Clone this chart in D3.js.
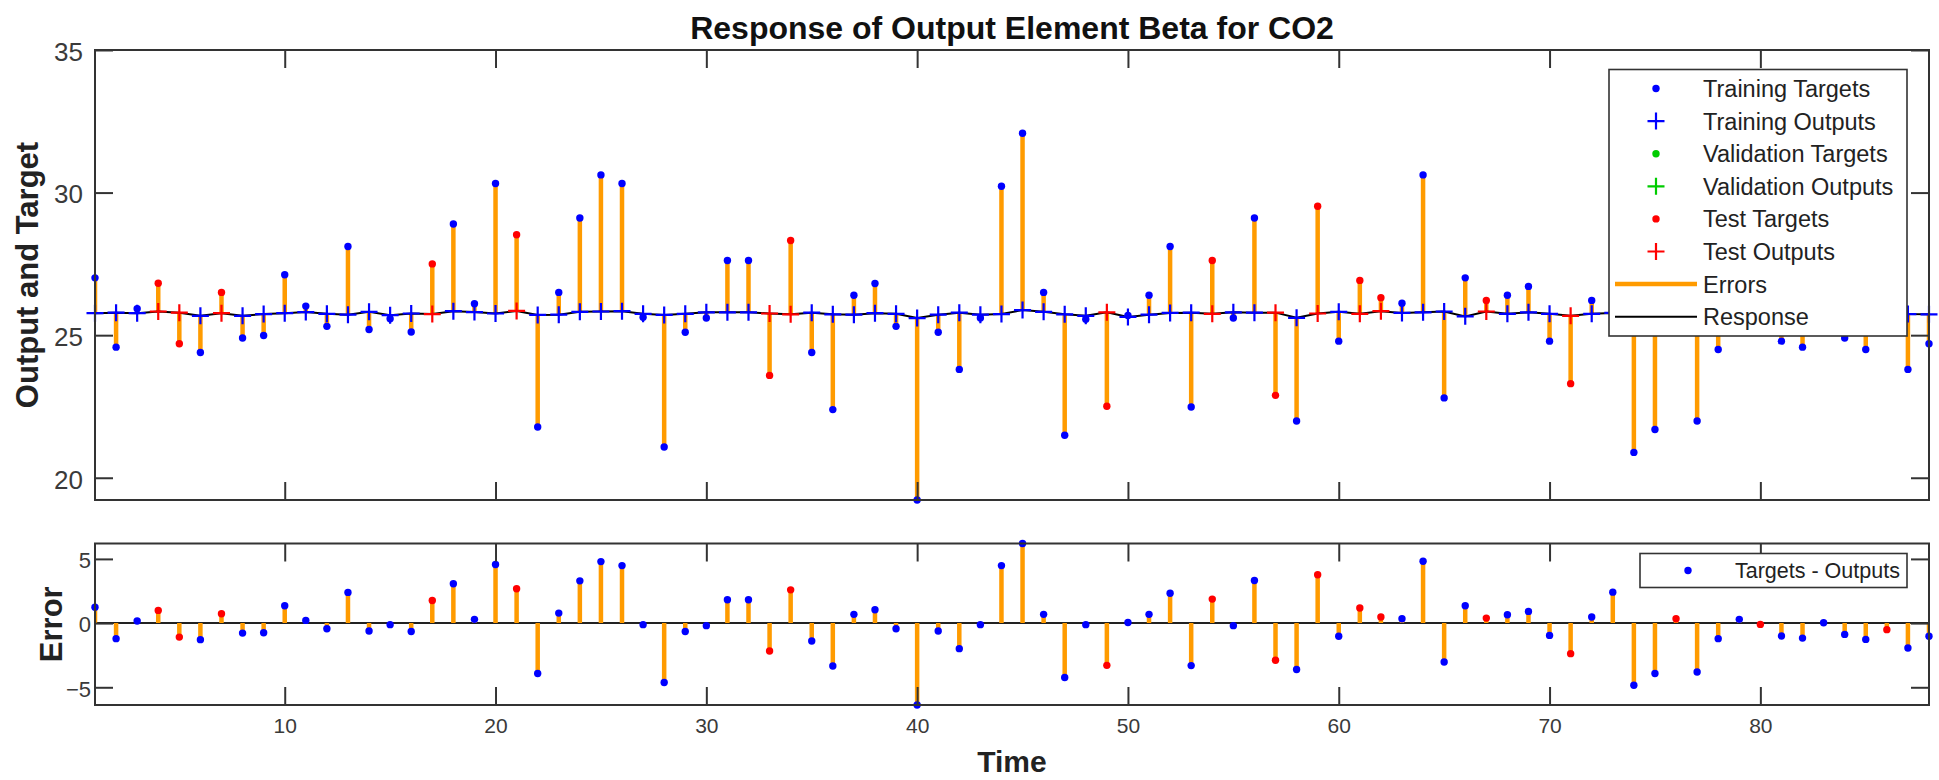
<!DOCTYPE html>
<html>
<head>
<meta charset="utf-8">
<script src="https://cdn.jsdelivr.net/npm/d3@7"></script>
<style>
  html, body { margin: 0; padding: 0; background: #fff; }
  svg { display: block; font-family: "Liberation Sans", Arial, Helvetica, sans-serif; }
</style>
</head>
<body>
<svg id="chart" width="1939" height="780"></svg>
<script>
// ---------------- DATA ----------------
const times = d3.range(1, 89);
const targets = [
  27.01, 24.58, 25.93, 26.82, 24.70, 24.39, 26.50, 24.90, 24.99, 27.12,
  26.02, 25.31, 28.11, 25.20, 25.58, 25.11, 27.50, 28.90, 26.10, 30.32,
  28.52, 21.78, 26.50, 29.11, 30.62, 30.32, 25.63, 21.08, 25.10, 25.60,
  27.62, 27.62, 23.59, 28.32, 24.39, 22.39, 26.40, 26.81, 25.31, 19.22,
  25.10, 23.80, 25.60, 30.22, 32.08, 26.50, 21.49, 25.56, 22.51, 25.69,
  26.40, 28.11, 22.48, 27.62, 25.60, 29.11, 22.89, 21.99, 29.52, 24.79,
  26.92, 26.31, 26.12, 30.62, 22.80, 27.01, 26.22, 26.40, 26.71, 24.79,
  23.30, 26.22, 28.19, 20.89, 21.69, 26.12, 21.99, 24.50, 26.08, 25.68,
  24.79, 24.58, 25.81, 24.90, 24.50, 25.27, 23.80, 24.70
];
const outputs = [
  25.77, 25.79, 25.77, 25.83, 25.79, 25.68, 25.77, 25.68, 25.74, 25.77,
  25.81, 25.75, 25.72, 25.82, 25.70, 25.76, 25.74, 25.84, 25.81, 25.76,
  25.85, 25.71, 25.72, 25.82, 25.83, 25.84, 25.75, 25.71, 25.75, 25.80,
  25.80, 25.80, 25.76, 25.73, 25.79, 25.73, 25.72, 25.77, 25.75, 25.60,
  25.72, 25.79, 25.72, 25.74, 25.88, 25.82, 25.73, 25.68, 25.80, 25.64,
  25.72, 25.78, 25.79, 25.75, 25.80, 25.79, 25.79, 25.61, 25.76, 25.82,
  25.75, 25.84, 25.78, 25.80, 25.83, 25.66, 25.83, 25.75, 25.80, 25.75,
  25.68, 25.75, 25.78, 25.73, 25.62, 25.78, 25.80, 25.71, 25.79, 25.78,
  25.80, 25.75, 25.78, 25.78, 25.77, 25.78, 25.74, 25.73
];
const testTimes = [4, 5, 7, 17, 21, 33, 34, 49, 54, 57, 59, 61, 62, 67, 71, 76, 80, 86];
const validationTimes = [];
const xTicks = [10, 20, 30, 40, 50, 60, 70, 80];
const yTicksTop = [20, 25, 30, 35];
const yTicksErr = [-5, 0, 5];
const xDomain = [1, 88];
const yDomainTop = [19.22, 35];
const yDomainErr = [-6.38, 6.20];
const legendTop = [
  {label: "Training Targets", kind: "dot", color: "#0000ff"},
  {label: "Training Outputs", kind: "plus", color: "#0000ff"},
  {label: "Validation Targets", kind: "dot", color: "#00cc00"},
  {label: "Validation Outputs", kind: "plus", color: "#00cc00"},
  {label: "Test Targets", kind: "dot", color: "#ff0000"},
  {label: "Test Outputs", kind: "plus", color: "#ff0000"},
  {label: "Errors", kind: "thick", color: "#ff9b00"},
  {label: "Response", kind: "line", color: "#000000"}
];
const legendErr = [{label: "Targets - Outputs", kind: "dot", color: "#0000ff"}];
const titleText = "Response of Output Element Beta for CO2";

// ---------------- BUILD ----------------
const data = times.map((t, i) => {
  const set = testTimes.includes(t) ? "test" : (validationTimes.includes(t) ? "val" : "train");
  return {t, target: targets[i], output: outputs[i], err: targets[i] - outputs[i], set};
});
const setColor = {train: "#0000ff", val: "#00cc00", test: "#ff0000"};
const ORANGE = "#ff9b00";
const AX = "#333333";

const svg = d3.select("#chart");
const L = 95, R = 1929;
const topBox = {y0: 50, y1: 500};
const errBox = {y0: 543.5, y1: 705};

const x = d3.scaleLinear().domain(xDomain).range([L, R]);
const yTop = d3.scaleLinear().domain(yDomainTop).range([topBox.y1, topBox.y0]);
const yErr = d3.scaleLinear().domain(yDomainErr).range([errBox.y1, errBox.y0]);

function plusPath(cx, cy, s) {
  return `M${cx - s},${cy}H${cx + s}M${cx},${cy - s}V${cy + s}`;
}

function styleAxis(g, fontSize) {
  g.select(".domain").remove();
  g.selectAll(".tick line").attr("stroke", AX).attr("stroke-width", 2);
  g.selectAll(".tick text").attr("fill", "#3a3a3a").attr("font-size", fontSize)
    .attr("font-family", "'Liberation Sans', Arial, sans-serif");
}

function drawFrame(box, yScale, yTicks, yPad, yFont, showXLabels) {
  const TS = -18;
  svg.append("g").attr("transform", `translate(0,${box.y1})`)
    .call(d3.axisBottom(x).tickValues(xTicks).tickSize(TS).tickSizeOuter(0).tickPadding(13)
      .tickFormat(showXLabels ? d3.format("d") : () => ""))
    .call(g => styleAxis(g, 21));
  svg.append("g").attr("transform", `translate(0,${box.y0})`)
    .call(d3.axisTop(x).tickValues(xTicks).tickSize(TS).tickSizeOuter(0).tickFormat(() => ""))
    .call(g => styleAxis(g, 21));
  svg.append("g").attr("transform", `translate(${L},0)`)
    .call(d3.axisLeft(yScale).tickValues(yTicks).tickSize(TS).tickSizeOuter(0).tickPadding(yPad)
      .tickFormat(d3.format("d")))
    .call(g => styleAxis(g, yFont))
    .call(g => g.selectAll(".tick text").attr("dy", "0.4em"));
  svg.append("g").attr("transform", `translate(${R},0)`)
    .call(d3.axisRight(yScale).tickValues(yTicks).tickSize(TS).tickSizeOuter(0).tickFormat(() => ""))
    .call(g => styleAxis(g, yFont));
  svg.append("rect").attr("x", L).attr("y", box.y0).attr("width", R - L).attr("height", box.y1 - box.y0)
    .attr("fill", "none").attr("stroke", AX).attr("stroke-width", 2);
}

// clip paths
const defs = svg.append("defs");
defs.append("clipPath").attr("id", "clipTop").append("rect")
  .attr("x", L).attr("y", topBox.y0).attr("width", R - L).attr("height", topBox.y1 - topBox.y0);
defs.append("clipPath").attr("id", "clipErr").append("rect")
  .attr("x", L).attr("y", errBox.y0).attr("width", R - L).attr("height", errBox.y1 - errBox.y0);

// ---------- TOP PLOT ----------
const gTop = svg.append("g");
gTop.append("g").attr("clip-path", "url(#clipTop)")
  .selectAll("line.err").data(data).join("line")
  .attr("x1", d => x(d.t)).attr("x2", d => x(d.t))
  .attr("y1", d => yTop(d.output)).attr("y2", d => yTop(d.target))
  .attr("stroke", ORANGE).attr("stroke-width", 4.5);

gTop.append("path").datum(data)
  .attr("d", d3.line().x(d => x(d.t)).y(d => yTop(d.output)))
  .attr("fill", "none").attr("stroke", "#000").attr("stroke-width", 2);

gTop.selectAll("path.plus").data(data).join("path")
  .attr("d", d => plusPath(x(d.t), yTop(d.output), 8.5))
  .attr("stroke", d => setColor[d.set]).attr("stroke-width", 2.2).attr("fill", "none");

gTop.selectAll("circle.tg").data(data).join("circle")
  .attr("cx", d => x(d.t)).attr("cy", d => yTop(d.target)).attr("r", 3.7)
  .attr("fill", d => setColor[d.set]);

drawFrame(topBox, yTop, yTicksTop, 12, 26, false);

// legend (top)
const lgT = {x: 1609, y: 69.5, w: 298, h: 266.5, row: 32.6, first: 88.5};
svg.append("rect").attr("x", lgT.x).attr("y", lgT.y).attr("width", lgT.w).attr("height", lgT.h)
  .attr("fill", "#fff").attr("stroke", AX).attr("stroke-width", 1.6);
legendTop.forEach((e, i) => {
  const cy = lgT.first + i * lgT.row;
  const g = svg.append("g");
  if (e.kind === "dot") g.append("circle").attr("cx", 1656).attr("cy", cy).attr("r", 3.7).attr("fill", e.color);
  else if (e.kind === "plus") g.append("path").attr("d", plusPath(1656, cy, 8.5)).attr("stroke", e.color).attr("stroke-width", 2.2);
  else g.append("line").attr("x1", 1615).attr("x2", 1697).attr("y1", cy).attr("y2", cy)
    .attr("stroke", e.color).attr("stroke-width", e.kind === "thick" ? 4.5 : 2);
  g.append("text").attr("x", 1703).attr("y", cy).attr("dy", "0.36em")
    .attr("font-size", 23.5).attr("fill", "#222").text(e.label);
});

// ---------- ERROR PLOT ----------
const gErr = svg.append("g");
gErr.append("line").attr("x1", L).attr("x2", R).attr("y1", yErr(0)).attr("y2", yErr(0))
  .attr("stroke", "#222").attr("stroke-width", 2);
gErr.append("g").attr("clip-path", "url(#clipErr)")
  .selectAll("line.err").data(data).join("line")
  .attr("x1", d => x(d.t)).attr("x2", d => x(d.t))
  .attr("y1", yErr(0)).attr("y2", d => yErr(d.err))
  .attr("stroke", ORANGE).attr("stroke-width", 4.5);
gErr.selectAll("circle.ep").data(data).join("circle")
  .attr("cx", d => x(d.t)).attr("cy", d => yErr(d.err)).attr("r", 3.7)
  .attr("fill", d => setColor[d.set]);

drawFrame(errBox, yErr, yTicksErr, 4, 22, true);

// legend (error)
svg.append("rect").attr("x", 1640).attr("y", 553.5).attr("width", 267).attr("height", 34)
  .attr("fill", "#fff").attr("stroke", AX).attr("stroke-width", 1.6);
legendErr.forEach(e => {
  svg.append("circle").attr("cx", 1688).attr("cy", 570.5).attr("r", 3.7).attr("fill", e.color);
  svg.append("text").attr("x", 1735).attr("y", 570.5).attr("dy", "0.36em")
    .attr("font-size", 21.5).attr("fill", "#222").text(e.label);
});

// ---------- TEXT ----------
svg.append("text").attr("x", (L + R) / 2).attr("y", 39).attr("text-anchor", "middle")
  .attr("font-size", 32).attr("font-weight", "bold").attr("fill", "#111").text(titleText);
svg.append("text").attr("transform", `translate(38,${(topBox.y0 + topBox.y1) / 2}) rotate(-90)`)
  .attr("text-anchor", "middle").attr("font-size", 31).attr("font-weight", "bold").attr("fill", "#222")
  .text("Output and Target");
svg.append("text").attr("transform", `translate(62,${(errBox.y0 + errBox.y1) / 2}) rotate(-90)`)
  .attr("text-anchor", "middle").attr("font-size", 31).attr("font-weight", "bold").attr("fill", "#222")
  .text("Error");
svg.append("text").attr("x", (L + R) / 2).attr("y", 772).attr("text-anchor", "middle")
  .attr("font-size", 30).attr("font-weight", "bold").attr("fill", "#222").text("Time");
</script>
</body>
</html>
